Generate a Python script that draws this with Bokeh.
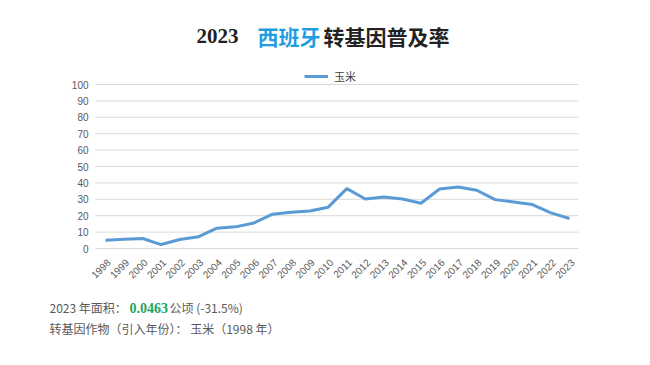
from bokeh.plotting import figure
from bokeh.models import Label, Legend, LegendItem, Range1d
from bokeh.embed import file_html
from bokeh.resources import INLINE
import math

years = list(range(1998, 2024))
corn = [5.1, 5.7, 6.1, 2.4, 5.5, 7.1, 12.4, 13.2, 15.6, 20.9, 22.1, 22.9, 25.2,
        36.5, 30.2, 31.4, 30.2, 27.6, 36.3, 37.5, 35.5, 29.8, 28.4, 26.8, 21.7, 18.3]
y_ticks = list(range(0, 101, 10))
series_name = "玉米"

W, H = 634, 349
# plot area geometry (pixels on the canvas)
PX_L, PX_R, PX_T, PX_B = 95, 578, 84, 248
X0, X1 = 1998, 2023
x_first_px, x_last_px = 105, 569
sx = (x_last_px - x_first_px) / (X1 - X0)
sy = (PX_B - PX_T) / 100.0
x_start = X0 - x_first_px / sx
x_end = X0 + (W - x_first_px) / sx
y_start = -(H - PX_B) / sy
y_end = PX_B / sy
grid_x0 = X0 - (x_first_px - PX_L) / sx
grid_x1 = X1 + (PX_R - x_last_px) / sx

p = figure(width=W, height=H, output_backend="svg", toolbar_location=None,
           x_range=Range1d(x_start, x_end), y_range=Range1d(y_start, y_end),
           min_border=0)
p.axis.visible = False
p.grid.grid_line_color = None
p.outline_line_color = None
p.background_fill_color = "white"
p.border_fill_color = "white"

# horizontal grid lines
p.segment(x0=[grid_x0] * len(y_ticks), x1=[grid_x1] * len(y_ticks), y0=y_ticks, y1=y_ticks,
          line_color="#d9d9d9", line_width=1)

# y tick labels
p.text(x=[grid_x0] * len(y_ticks), y=y_ticks, text=[str(t) for t in y_ticks],
       text_align="right", text_baseline="middle", x_offset=-7,
       text_font_size="10px", text_color="#595959")

# x tick labels
p.text(x=years, y=[0] * len(years), text=[str(y) for y in years], angle=math.pi / 4,
       text_align="right", text_baseline="middle", x_offset=3, y_offset=12,
       text_font_size="10px", text_color="#595959")

r = p.line(years, corn, line_color="#5b9bd5", line_width=3)

legend = Legend(items=[LegendItem(label=series_name, renderers=[r])], location=(304, H - 84),
                orientation="horizontal", padding=0, margin=0, glyph_width=24, glyph_height=14,
                label_standoff=6, border_line_color=None, background_fill_alpha=0,
                label_text_font_size="11px", label_text_color="#404040",
                label_text_font="Noto Sans CJK SC")
p.add_layout(legend, "center")

CJK = "Noto Sans CJK SC"
def lab(x, y, t, color="#222222", size="21px", style="bold", font=CJK):
    # x from canvas left, y as canvas-top distance
    p.add_layout(Label(x=x, y=H - y, x_units="screen", y_units="screen", text=t,
                       text_color=color, text_font_size=size, text_font_style=style,
                       text_font=font, text_baseline="middle", text_align="left"))

# title
ty = 35
lab(196, ty, "2023", font="Liberation Serif")
lab(257, ty, "西班牙", color="#1e9ee0")
lab(323, ty, "转基因普及率")

# footer texts
gray = "#595959"
y1 = 307
lab(49, y1, "2023 年面积：", color=gray, size="12px", style="normal")
lab(129, y1, "0.0463", color="#1fa55a", size="14px", style="bold", font="Liberation Serif")
lab(169, y1, "公顷 (-31.5%)", color=gray, size="12px", style="normal")
y2 = 328
lab(49, y2, "转基因作物（引入年份）： 玉米（1998 年）", color=gray, size="12px", style="normal")

open("out.html", "w").write(file_html(p, INLINE))
